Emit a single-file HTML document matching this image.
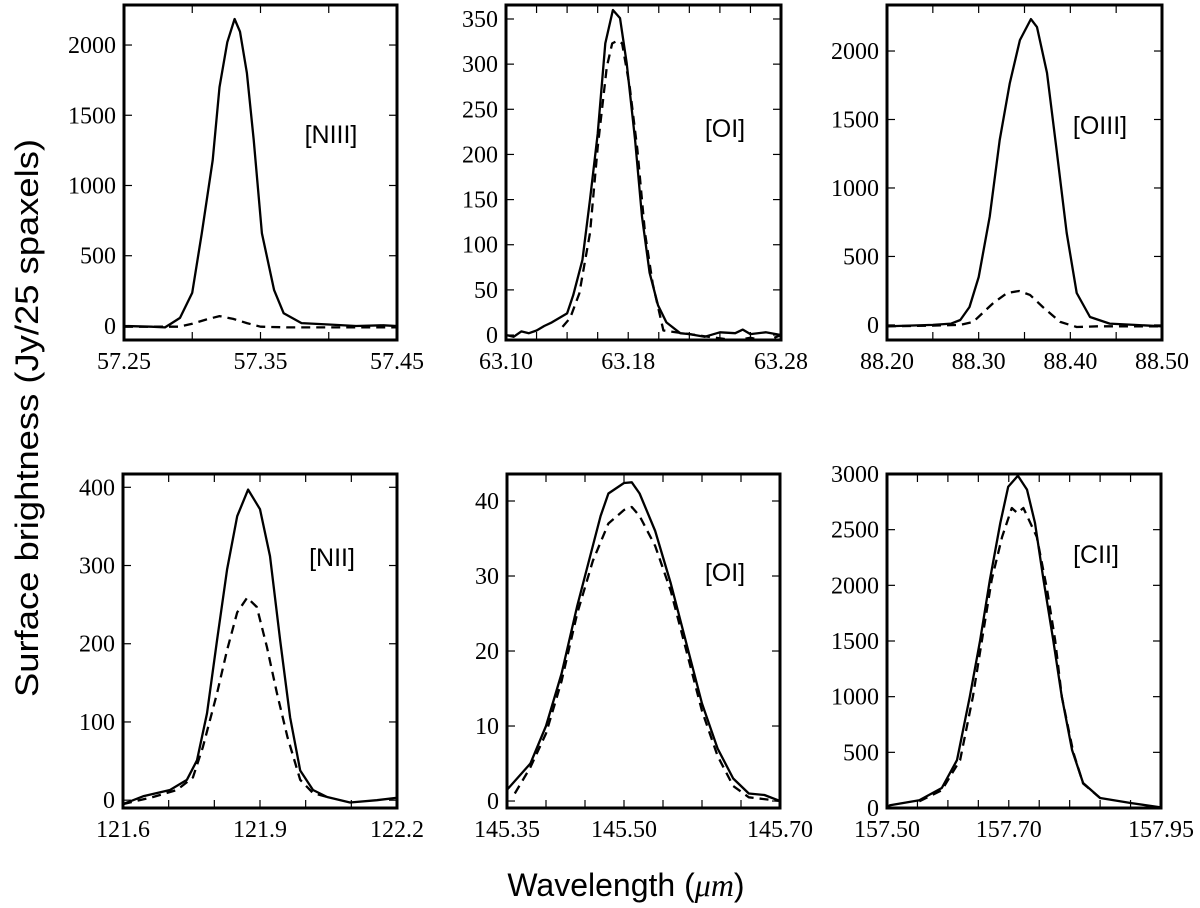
<!DOCTYPE html>
<html><head><meta charset="utf-8"><style>
html,body{margin:0;padding:0;background:#fff;}
svg{display:block;}
.tick{font-family:"Liberation Serif",serif;font-size:24px;fill:#000;}
.lbl{font-family:"Liberation Sans",sans-serif;font-size:25px;fill:#000;}
.ax{font-family:"Liberation Sans",sans-serif;font-size:32px;fill:#000;}
</style></head><body>
<svg id="fig" width="1200" height="908" viewBox="0 0 1200 908" xmlns="http://www.w3.org/2000/svg">
<text class="ax" transform="translate(38,418) rotate(-90)" text-anchor="middle" textLength="558" lengthAdjust="spacingAndGlyphs">Surface brightness (Jy/25 spaxels)</text>
<text class="ax" x="626" y="896" text-anchor="middle">Wavelength (<tspan font-family="Liberation Serif" font-style="italic">μm</tspan>)</text>
</svg>
<script>
// Panel 1 [NIII]
const p1Wave=[57.25,57.27,57.28,57.285,57.291,57.30,57.307,57.315,57.32,57.3257,57.331,57.335,57.34,57.345,57.351,57.36,57.367,57.38,57.40,57.42,57.44,57.45];
const p1Solid=[0,-5,-10,20,57,235,660,1180,1700,2020,2185,2095,1800,1325,660,255,90,20,10,0,5,0];
const p1DWave=[57.25,57.27,57.29,57.30,57.31,57.32,57.33,57.34,57.35,57.37,57.40,57.45];
const p1Dashed=[-5,-5,-5,15,45,70,50,20,-5,-10,-10,-10];
// Panel 2 [OI] 63
const p2Wave=[63.10,63.105,63.11,63.115,63.12,63.125,63.13,63.14,63.144,63.15,63.155,63.16,63.165,63.17,63.1746,63.179,63.1845,63.189,63.194,63.1995,63.205,63.214,63.22,63.23,63.24,63.25,63.255,63.26,63.27,63.28];
const p2Solid=[0,-2,4,2,5,10,14,24,44,83,150,223,323,360,351,301,216,131,69,33,14,2,1,-2,3,2,6,1,3,0];
const p2DWave=[63.137,63.142,63.148,63.155,63.16,63.166,63.1695,63.173,63.176,63.181,63.186,63.191,63.196,63.203,63.25,63.26,63.27,63.28];
const p2Dashed=[9,19,46,113,208,297,323,326,323,275,205,113,57,5,-6,-3,-7,0];
// Panel 3 [OIII]
const p3Wave=[88.20,88.25,88.27,88.28,88.29,88.30,88.312,88.323,88.334,88.345,88.357,88.3636,88.3745,88.385,88.396,88.407,88.4215,88.443,88.47,88.50];
const p3Solid=[-10,0,10,36,131,350,790,1350,1766,2080,2233,2175,1840,1277,671,233,58,10,0,-10];
const p3DWave=[88.20,88.25,88.28,88.294,88.316,88.331,88.344,88.356,88.370,88.389,88.407,88.43,88.50];
const p3Dashed=[-10,-5,0,22,160,233,248,219,131,22,-15,-10,-10];
// Panel 4 [NII]
const p4Wave=[121.6,121.644,121.703,121.74,121.762,121.784,121.806,121.828,121.85,121.874,121.9,121.922,121.944,121.966,121.988,122.016,122.047,122.097,122.156,122.2];
const p4Solid=[-5,5,13,26,51,111,205,295,363,397,372,312,205,106,38,13,4,-3,0,3];
const p4DWave=[121.6,121.666,121.718,121.753,121.775,121.806,121.828,121.85,121.872,121.893,121.915,121.937,121.96,121.988,122.016,122.047];
const p4Dashed=[-5,4,13,29,68,137,192,240,259,247,196,137,81,26,9,4];
// Panel 5 [OI] 145
const p5Wave=[145.35,145.38,145.40,145.42,145.44,145.46,145.47,145.48,145.50,145.51,145.52,145.54,145.56,145.58,145.60,145.62,145.64,145.66,145.68,145.70];
const p5Solid=[1.5,5,10,17,26,34,38,41,42.4,42.5,41,36,29,21,13,7,3,1,0.8,0];
const p5DWave=[145.36,145.38,145.40,145.42,145.44,145.46,145.48,145.50,145.51,145.52,145.54,145.56,145.58,145.60,145.62,145.64,145.66,145.70];
const p5Dashed=[1,4.5,9,16,25,32,37,38.8,39.2,38,34,28,20,12,6,2,0.5,0];
// Panel 6 [CII]
const p6Wave=[157.50,157.505,157.553,157.59,157.615,157.636,157.653,157.669,157.686,157.699,157.715,157.730,157.743,157.757,157.773,157.787,157.804,157.822,157.85,157.90,157.95];
const p6Solid=[5,25,70,180,430,1000,1510,2050,2560,2885,2985,2860,2560,2050,1510,1000,520,225,90,45,5];
const p6DWave=[157.553,157.59,157.62,157.641,157.656,157.672,157.689,157.705,157.714,157.724,157.746,157.763,157.776,157.787,157.806,157.822,157.85];
const p6Dashed=[60,160,430,1000,1510,2050,2435,2695,2650,2695,2435,1960,1510,1000,500,220,90];
// Ticks
const p1XTicks=[57.25,57.30,57.35,57.40,57.45], p1XLabels=["57.25","","57.35","","57.45"], p1YTicks=[0,500,1000,1500,2000];
const p2XTicks=[63.10,63.12,63.14,63.16,63.18,63.20,63.22,63.24,63.26,63.28], p2XLabels=["63.10","","","","63.18","","","","","63.28"], p2YTicks=[0,50,100,150,200,250,300,350];
const p3XTicks=[88.20,88.25,88.30,88.35,88.40,88.45,88.50], p3XLabels=["88.20","","88.30","","88.40","","88.50"], p3YTicks=[0,500,1000,1500,2000];
const p4XTicks=[121.6,121.7,121.8,121.9,122.0,122.1,122.2], p4XLabels=["121.6","","","121.9","","","122.2"], p4YTicks=[0,100,200,300,400];
const p5XTicks=[145.35,145.40,145.45,145.50,145.55,145.60,145.65,145.70], p5XLabels=["145.35","","","145.50","","","","145.70"], p5YTicks=[0,10,20,30,40];
const p6XTicks=[157.50,157.55,157.60,157.65,157.70,157.75,157.80,157.85,157.90,157.95], p6XLabels=["157.50","","","","157.70","","","","","157.95"], p6YTicks=[0,500,1000,1500,2000,2500,3000];
const lineNames=["[NIII]","[OI]","[OIII]","[NII]","[OI]","[CII]"];

const NS="http://www.w3.org/2000/svg";
const fig=document.getElementById('fig');
function mk(tag,attrs,parent){const e=document.createElementNS(NS,tag);for(const k in attrs)e.setAttribute(k,attrs[k]);parent.appendChild(e);return e;}

const panels=[
 {l:124,r:397,t:5,b:340,x0:57.25,x1:57.45,y0:-100,y1:2285,w:p1Wave,s:p1Solid,dw:p1DWave,d:p1Dashed,xt:p1XTicks,xl:p1XLabels,yt:p1YTicks,lx:331,ly:143},
 {l:506,r:781,t:5,b:340,x0:63.10,x1:63.28,y0:-5.5,y1:365.5,w:p2Wave,s:p2Solid,dw:p2DWave,d:p2Dashed,xt:p2XTicks,xl:p2XLabels,yt:p2YTicks,lx:725,ly:137},
 {l:887,r:1162,t:5,b:340,x0:88.20,x1:88.50,y0:-110,y1:2336,w:p3Wave,s:p3Solid,dw:p3DWave,d:p3Dashed,xt:p3XTicks,xl:p3XLabels,yt:p3YTicks,lx:1100,ly:134},
 {l:123,r:397,t:474,b:808,x0:121.6,x1:122.2,y0:-10,y1:417,w:p4Wave,s:p4Solid,dw:p4DWave,d:p4Dashed,xt:p4XTicks,xl:p4XLabels,yt:p4YTicks,lx:332,ly:566},
 {l:507,r:780,t:474,b:808,x0:145.35,x1:145.70,y0:-0.93,y1:43.6,w:p5Wave,s:p5Solid,dw:p5DWave,d:p5Dashed,xt:p5XTicks,xl:p5XLabels,yt:p5YTicks,lx:725,ly:581},
 {l:887,r:1161,t:474,b:808,x0:157.50,x1:157.95,y0:0,y1:3000,w:p6Wave,s:p6Solid,dw:p6DWave,d:p6Dashed,xt:p6XTicks,xl:p6XLabels,yt:p6YTicks,lx:1096,ly:563}
];

panels.forEach((p,i)=>{
 const g=mk('g',{},fig);
 
 
 const X=v=>p.l+(v-p.x0)/(p.x1-p.x0)*(p.r-p.l);
 const Y=v=>p.b-(v-p.y0)/(p.y1-p.y0)*(p.b-p.t);
 const cid='clip'+i;
 const cp=mk('clipPath',{id:cid},g);
 mk('rect',{x:p.l,y:p.t,width:p.r-p.l,height:p.b-p.t},cp);
 const ds=p.dw.map((w,j)=>(j?'L':'M')+X(w).toFixed(1)+','+Y(p.d[j]).toFixed(1)).join('');
 const dl=mk('path',{d:ds,fill:'none',stroke:'#000','stroke-width':2.3,'stroke-dasharray':'9,6','stroke-linejoin':'round','clip-path':'url(#'+cid+')'},g);
 
 
 const ss=p.w.map((w,j)=>(j?'L':'M')+X(w).toFixed(1)+','+Y(p.s[j]).toFixed(1)).join('');
 const sl=mk('path',{d:ss,fill:'none',stroke:'#000','stroke-width':2.3,'stroke-linejoin':'round','clip-path':'url(#'+cid+')'},g);
 
 
 p.xt.forEach((v,j)=>{
  const x=X(v);
  mk('line',{x1:x,x2:x,y1:p.b,y2:p.b-8,stroke:'#000','stroke-width':1.2},g);
  mk('line',{x1:x,x2:x,y1:p.t,y2:p.t+8,stroke:'#000','stroke-width':1.2},g);
  if(p.xl[j]){const t=mk('text',{x:x,y:p.b+29,'text-anchor':'middle',class:'tick'},g);t.textContent=p.xl[j];
   
   }
 });
 p.yt.forEach(v=>{
  const y=Y(v);
  mk('line',{x1:p.l,x2:p.l+8,y1:y,y2:y,stroke:'#000','stroke-width':1.2},g);
  mk('line',{x1:p.r,x2:p.r-8,y1:y,y2:y,stroke:'#000','stroke-width':1.2},g);
  const t=mk('text',{x:p.l-8,y:y+8,'text-anchor':'end',class:'tick'},g);t.textContent=String(v);
  
  
 });
 const fr=mk('rect',{x:p.l,y:p.t,width:p.r-p.l,height:p.b-p.t,fill:'none',stroke:'#000','stroke-width':3},g);
 
 
 const lb=mk('text',{x:p.lx,y:p.ly,'text-anchor':'middle',class:'lbl'},g);lb.textContent=lineNames[i];
 
 
});
</script>
</body></html>
